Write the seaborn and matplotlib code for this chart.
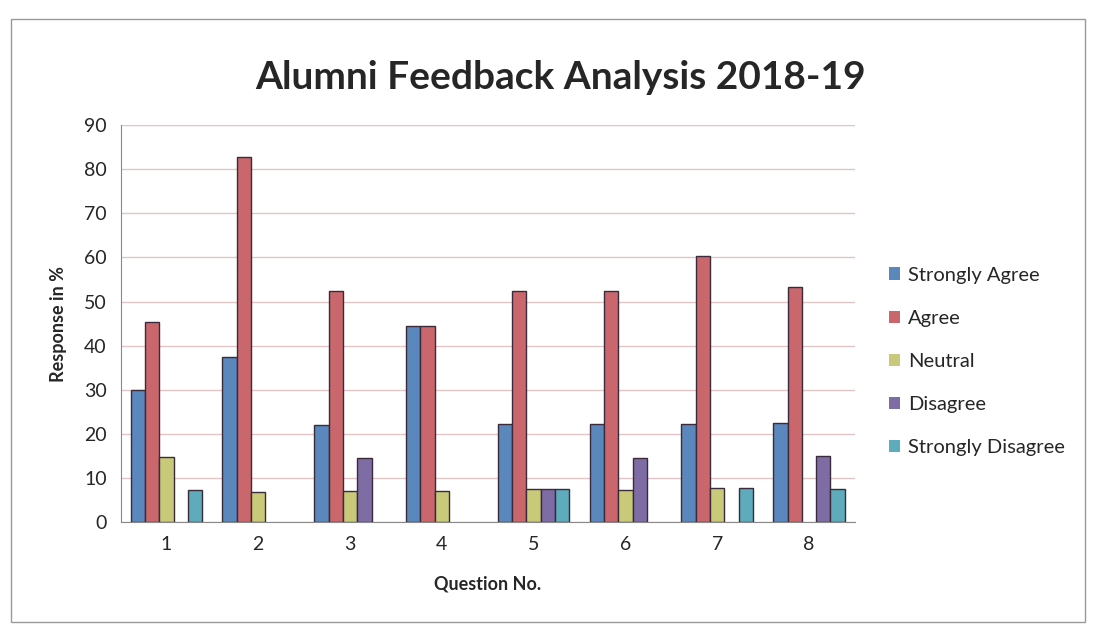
import matplotlib
matplotlib.use("Agg")
import matplotlib.pyplot as plt
import seaborn as sns
import pandas as pd

# --- data ---
questions = ['1', '2', '3', '4', '5', '6', '7', '8']
strongly_agree = [30.0, 37.4, 22.0, 44.6, 22.2, 22.2, 22.4, 22.6]
agree = [45.5, 82.7, 52.3, 44.6, 52.3, 52.4, 60.3, 53.3]
neutral = [14.8, 6.9, 7.1, 7.1, 7.5, 7.4, 7.7, 0.0]
disagree = [0.0, 0.0, 14.5, 0.0, 7.5, 14.6, 0.0, 15.0]
strongly_disagree = [7.3, 0.0, 0.0, 0.0, 7.5, 0.0, 7.7, 7.6]

series = ['Strongly Agree', 'Agree', 'Neutral', 'Disagree', 'Strongly Disagree']
colors = ['#4A86CC', '#D9575F', '#D5D66C', '#7B63AE', '#4DB6CB']

rows = []
for name, vals in zip(series, [strongly_agree, agree, neutral, disagree, strongly_disagree]):
    for q, v in zip(questions, vals):
        rows.append({'Question No.': q, 'Response in %': v, 'Response': name})
df = pd.DataFrame(rows)

sns.set_style("white")
plt.rcParams['font.family'] = ['Lato', 'DejaVu Sans']

fig = plt.figure(figsize=(10.96, 6.28), dpi=100)
ax = fig.add_axes([0.110, 0.168, 0.670, 0.633])

sns.barplot(data=df, x='Question No.', y='Response in %', hue='Response',
            hue_order=series, order=questions, palette=colors, width=0.78,
            edgecolor='#3a2a3a', linewidth=1.0, ax=ax)

# no outline for empty bars
for p in ax.patches:
    if p.get_height() == 0:
        p.set_linewidth(0)

ax.set_ylim(0, 90)
ax.set_xlim(-0.5, 7.5)
ax.set_yticks(range(0, 91, 10))
ax.yaxis.grid(True, color='#e2c4c4', linewidth=1.0)
ax.set_axisbelow(True)
for s in ['top', 'right']:
    ax.spines[s].set_visible(False)
ax.spines['left'].set_color('#888888')
ax.spines['bottom'].set_color('#888888')
ax.tick_params(axis='both', labelsize=14, length=0, pad=10)
ax.set_xlabel('Question No.', fontsize=13, fontweight='bold', labelpad=16)
ax.set_ylabel('Response in %', fontsize=13, fontweight='bold', labelpad=12)

fig.suptitle('Alumni Feedback Analysis 2018-19', fontsize=28, fontweight='bold',
             x=0.511, y=0.905)

ax.legend(loc='center left', bbox_to_anchor=(1.022, 0.405), frameon=False,
          fontsize=14.5, handlelength=0.55, handleheight=0.55, handletextpad=0.4,
          labelspacing=1.3)

# photo frame border
fig.add_artist(plt.Rectangle((0.01, 0.01), 0.98, 0.96, transform=fig.transFigure,
                             fill=False, edgecolor='#999999', linewidth=1.0))

fig.savefig('out.png', dpi=100)
